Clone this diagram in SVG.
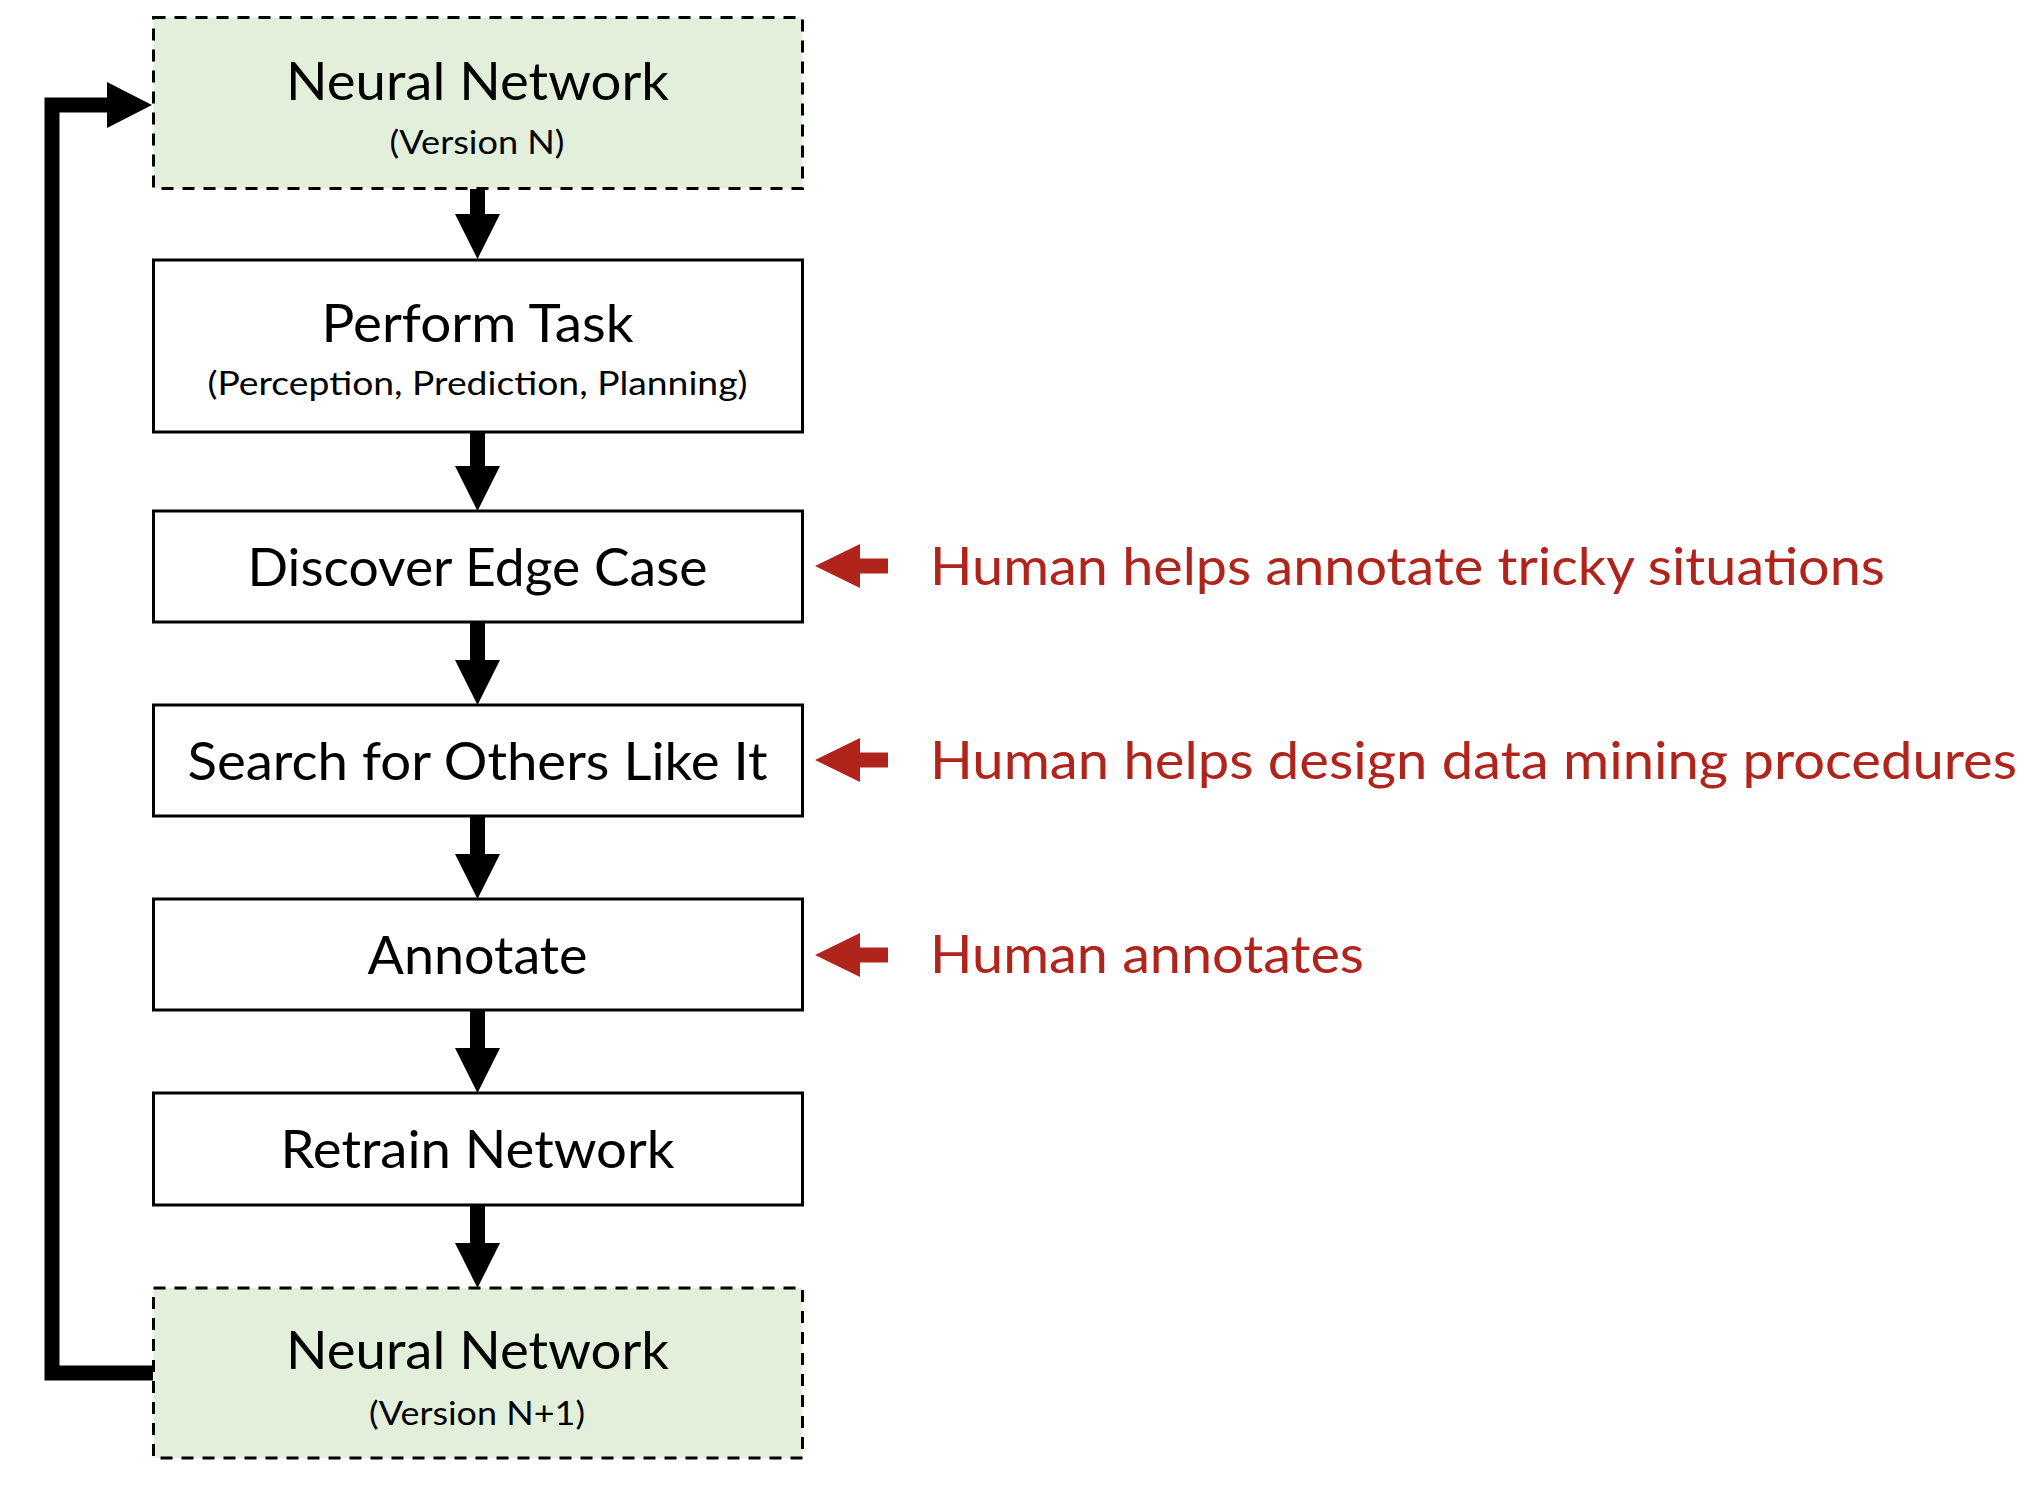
<svg xmlns="http://www.w3.org/2000/svg" width="2040" height="1498" viewBox="0 0 2040 1498">
<style>
.box{fill:#FFFFFF;stroke:#000;stroke-width:3}
.nn{fill:#E2EFDA;stroke:#000;stroke-width:3;stroke-dasharray:12 9}
.lbl{font-family:Lato,"Open Sans","Liberation Sans",sans-serif;font-size:52px;fill:#000;text-anchor:middle}
.sub{font-family:Lato,"Open Sans","Liberation Sans",sans-serif;font-size:32px;fill:#000;text-anchor:middle}
.note{font-family:Lato,"Open Sans","Liberation Sans",sans-serif;font-size:53px;fill:#B0241B}
.arr{fill:#000}
.red{fill:#B0241B}
</style>
<rect width="2040" height="1498" fill="#FFFFFF"/>
<g id="connectors">
<path d="M153,1373 H52 V105 H110" fill="none" stroke="#000" stroke-width="15"/>
<polygon class="arr" points="107,82 152,105 107,128"/>
<path class="arr" d="M470,189 H485 V214 H500 L477.5,259 L455,214 H470 Z"/>
<path class="arr" d="M470,432 H485 V466 H500 L477.5,511 L455,466 H470 Z"/>
<path class="arr" d="M470,622 H485 V660 H500 L477.5,705 L455,660 H470 Z"/>
<path class="arr" d="M470,816 H485 V854 H500 L477.5,899 L455,854 H470 Z"/>
<path class="arr" d="M470,1010 H485 V1048 H500 L477.5,1093 L455,1048 H470 Z"/>
<path class="arr" d="M470,1205 H485 V1243 H500 L477.5,1288 L455,1243 H470 Z"/>
<polygon class="red" points="815,566 860,544 860,558.5 888,558.5 888,573.5 860,573.5 860,588"/>
<polygon class="red" points="815,760 860,738 860,752.5 888,752.5 888,767.5 860,767.5 860,782"/>
<polygon class="red" points="815,955 860,933 860,947.5 888,947.5 888,962.5 860,962.5 860,977"/>
</g>
<g id="nn-version-n">
<rect class="nn" x="153.5" y="17.5" width="649" height="171"/>
<text class="lbl" x="477.5" y="100" textLength="383" lengthAdjust="spacingAndGlyphs">Neural Network</text>
<text class="sub" x="477" y="154" textLength="175" lengthAdjust="spacingAndGlyphs">(Version N)</text>
</g>
<g id="perform-task">
<rect class="box" x="153.5" y="260" width="649" height="172"/>
<text class="lbl" x="477.5" y="342" textLength="312" lengthAdjust="spacingAndGlyphs">Perform Task</text>
<text class="sub" x="477.5" y="395" textLength="540" lengthAdjust="spacingAndGlyphs">(Perception, Prediction, Planning)</text>
</g>
<g id="discover-edge-case">
<rect class="box" x="153.5" y="511" width="649" height="111"/>
<text class="lbl" x="477.5" y="586" textLength="460" lengthAdjust="spacingAndGlyphs">Discover Edge Case</text>
</g>
<g id="search-others">
<rect class="box" x="153.5" y="705" width="649" height="111"/>
<text class="lbl" x="477.5" y="780" textLength="580" lengthAdjust="spacingAndGlyphs">Search for Others Like It</text>
</g>
<g id="annotate">
<rect class="box" x="153.5" y="899" width="649" height="111"/>
<text class="lbl" x="477.5" y="974" textLength="220" lengthAdjust="spacingAndGlyphs">Annotate</text>
</g>
<g id="retrain-network">
<rect class="box" x="153.5" y="1093" width="649" height="112"/>
<text class="lbl" x="477.5" y="1168" textLength="394" lengthAdjust="spacingAndGlyphs">Retrain Network</text>
</g>
<g id="nn-version-n1">
<rect class="nn" x="153.5" y="1288" width="649" height="170"/>
<text class="lbl" x="477.5" y="1369" textLength="383" lengthAdjust="spacingAndGlyphs">Neural Network</text>
<text class="sub" x="477" y="1425" textLength="216" lengthAdjust="spacingAndGlyphs">(Version N+1)</text>
</g>
<g id="notes">
<text class="note" x="930" y="585" textLength="955" lengthAdjust="spacingAndGlyphs">Human helps annotate tricky situations</text>
<text class="note" x="930" y="779" textLength="1087" lengthAdjust="spacingAndGlyphs">Human helps design data mining procedures</text>
<text class="note" x="930" y="973" textLength="434" lengthAdjust="spacingAndGlyphs">Human annotates</text>
</g>
</svg>
